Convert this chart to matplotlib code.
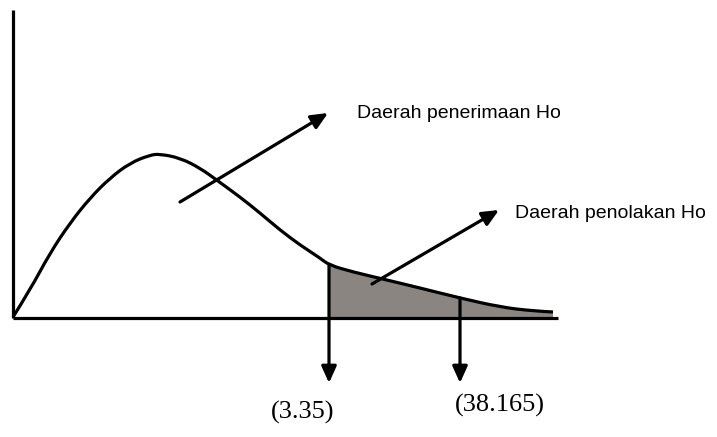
import matplotlib
matplotlib.use("Agg")
import matplotlib.pyplot as plt
from matplotlib.path import Path
from matplotlib.patches import PathPatch

# curve (pixel-like units, y grows downward)
curve_x = [13, 30, 50, 70, 90, 110, 130, 150, 160, 180, 200, 218, 240, 260, 280,
           300, 320, 329, 353, 387, 420, 460, 500, 533, 553]
curve_y = [317, 290, 253, 223, 198, 178, 163, 155, 154, 158, 168, 181, 197, 213, 230,
           245, 258, 265, 272, 280, 288, 298, 307, 311, 312]
axis_origin = (13, 318)
axis_x_end = 558
axis_y_top = 10
crit_x = [329, 460]
crit_y = [265, 298]
crit_labels = ["(3.35)", "(38.165)"]
region_labels = ["Daerah penerimaan Ho", "Daerah penolakan Ho"]


def smooth_path(xs, ys):
    """Quadratic Bezier path using the read points as control points."""
    pts = list(zip(xs, ys))
    verts = [pts[0]]
    codes = [Path.MOVETO]
    for i in range(1, len(pts) - 1):
        mid = ((pts[i][0] + pts[i + 1][0]) / 2, (pts[i][1] + pts[i + 1][1]) / 2)
        if i == len(pts) - 2:
            mid = pts[-1]
        verts += [pts[i], mid]
        codes += [Path.CURVE3, Path.CURVE3]
    return verts, codes


fig = plt.figure(figsize=(7.17, 4.37), dpi=100)
ax = fig.add_axes([0, 0, 1, 1])
ax.set_xlim(0, 717)
ax.set_ylim(437, 0)
ax.axis("off")

lw = 2.3
# axes
ax.plot([axis_origin[0], axis_origin[0]], [axis_origin[1], axis_y_top], color="black", lw=lw, solid_capstyle="butt")
ax.plot([axis_origin[0], axis_x_end], [axis_origin[1], axis_origin[1]], color="black", lw=lw, solid_capstyle="butt")

# shaded rejection region
sx = [x for x in curve_x if x >= crit_x[0]]
sy = [y for x, y in zip(curve_x, curve_y) if x >= crit_x[0]]
v, c = smooth_path(sx, sy)
v = v + [(sx[-1], axis_origin[1]), (sx[0], axis_origin[1]), v[0]]
c = c + [Path.LINETO, Path.LINETO, Path.CLOSEPOLY]
ax.add_patch(PathPatch(Path(v, c), facecolor="#8a8580", edgecolor="none"))

# curve
v, c = smooth_path(curve_x, curve_y)
ax.add_patch(PathPatch(Path(v, c), facecolor="none", edgecolor="black", lw=lw, joinstyle="round"))

# critical lines with arrows
akw = dict(arrowstyle="-|>,head_length=1.0,head_width=0.45", color="black", lw=lw, shrinkA=0, shrinkB=0)
for cx, cy in zip(crit_x, crit_y):
    ax.annotate("", xy=(cx, 383), xytext=(cx, cy), arrowprops=akw)

# pointer arrows
ax.annotate("", xy=(328, 113), xytext=(180, 202), arrowprops=akw)
ax.annotate("", xy=(499, 210), xytext=(372, 284), arrowprops=akw)

sans = ["Liberation Sans", "DejaVu Sans"]
ax.text(357, 113, region_labels[0], fontsize=14, family=sans, va="center", ha="left")
ax.text(515, 213, region_labels[1], fontsize=14, family=sans, va="center", ha="left")

serif = ["Liberation Serif", "DejaVu Serif"]
ax.text(303, 412, crit_labels[0], fontsize=19, family=serif, va="center", ha="center")
ax.text(500, 405, crit_labels[1], fontsize=19, family=serif, va="center", ha="center")

fig.savefig("out.png", dpi=100, facecolor="white")
